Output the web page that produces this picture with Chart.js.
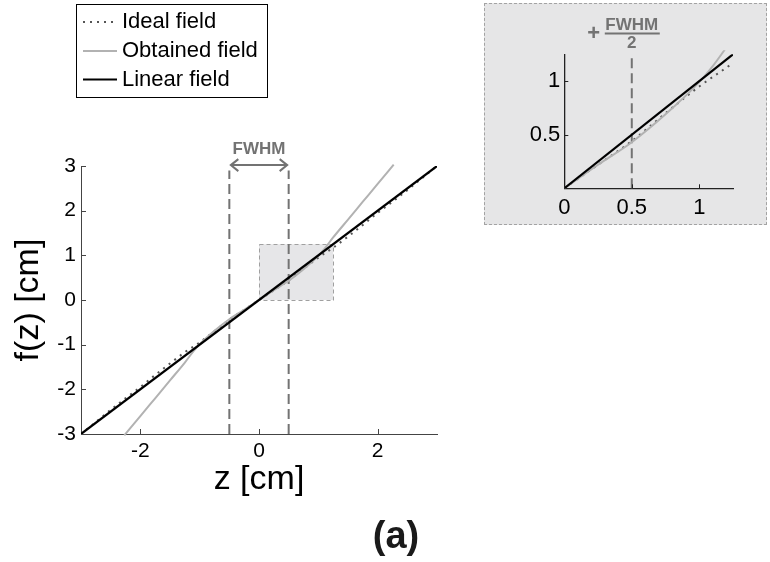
<!DOCTYPE html>
<html>
<head>
<meta charset="utf-8">
<title>f(z) field profiles</title>
<script src="https://cdn.jsdelivr.net/npm/chart.js@4/dist/chart.umd.min.js"></script>
<style>
  html, body { margin: 0; padding: 0; background: #fff; }
  #wrap { position: relative; width: 770px; height: 562px; overflow: hidden; }
  #main { position: absolute; left: 0; top: 0; }
  #insetBox { position: absolute; left: 484px; top: 3px; width: 281px; height: 220px;
              border: 1px dashed #a3a3a3; background: #e6e6e7; }
  #inset { position: absolute; left: 0; top: 0; }
</style>
</head>
<body>
<div id="wrap">
  <canvas id="main" width="770" height="562"></canvas>
  <div id="insetBox"><canvas id="inset" width="281" height="220"></canvas></div>
</div>
<script>
// ---- field profiles, z in cm, f(z) in cm ----
const zIdeal    = [-3, -2.75, -2.5, -2.25, -2, -1.75, -1.5, -1.25, -1, -0.75, -0.5, -0.25, 0,
                   0.25, 0.5, 0.75, 1, 1.25, 1.5, 1.75, 2, 2.25, 2.5, 2.75, 3];
const fIdeal    = [-3, -2.73, -2.46, -2.2, -1.95, -1.68, -1.42, -1.17, -0.95, -0.7, -0.44, -0.22, 0,
                   0.22, 0.44, 0.7, 0.95, 1.17, 1.42, 1.68, 1.95, 2.2, 2.46, 2.73, 3];
const zObtained = [-2.27, -2, -1.75, -1.5, -1.25, -1.1, -1, -0.75, -0.5, -0.25, 0,
                   0.25, 0.5, 0.75, 1, 1.1, 1.25, 1.5, 1.75, 2, 2.27];
const fObtained = [-3.03, -2.6, -2.2, -1.8, -1.4, -1.14, -0.99, -0.69, -0.43, -0.22, 0,
                   0.22, 0.43, 0.69, 0.99, 1.14, 1.4, 1.8, 2.2, 2.6, 3.03];
const zLinear   = [-3, 3];
const fLinear   = [-3, 3];

// FWHM markers and zoomed window
const fwhmEdges   = [-0.5, 0.5];
const fwhmSpan    = [-3, 2.9];     // vertical extent of the dashed FWHM lines
const fwhmArrowF  = 3.02;          // level of the double arrow
const zoomZ       = [0, 1.25];
const zoomF       = [0, 1.25];

// axis ticks and their labels
const xTicksMain   = [-2, 0, 2];
const xLabelsMain  = ['-2', '0', '2'];
const yTicksMain   = [-3, -2, -1, 0, 1, 2, 3];
const yLabelsMain  = ['-3', '-2', '-1', '0', '1', '2', '3'];
const xTicksInset  = [0, 0.5, 1];
const xLabelsInset = ['0', '0.5', '1'];
const yTicksInset  = [0.5, 1];
const yLabelsInset = ['0.5', '1'];

const legendOrder = ['Ideal field', 'Obtained field', 'Linear field'];

const FONT = "'Liberation Sans', Arial, Helvetica, sans-serif";
const GREY_MARK = '#737373';

const pts = (xs, ys) => xs.map((x, i) => ({ x: x, y: ys[i] }));

function fieldDatasets(inset) {
  return [
    { label: 'Linear field', data: pts(zLinear, fLinear), borderColor: '#000000',
      borderWidth: 2.2, pointRadius: 0, tension: 0 },
    { label: 'Obtained field', data: pts(zObtained, fObtained), borderColor: '#b2b2b2',
      borderWidth: 2, pointRadius: 0, cubicInterpolationMode: 'monotone',
      clip: inset ? { left: 0, top: 4, right: 0, bottom: 0 } : 2 },
    { label: 'Ideal field', data: pts(zIdeal, fIdeal), borderColor: '#555555',
      borderWidth: 2, borderDash: [2, 5], borderCapStyle: 'butt', pointRadius: 0,
      cubicInterpolationMode: 'monotone' }
  ];
}

function setTicks(values) {
  return function (scale) { scale.ticks = values.map(v => ({ value: v })); };
}
function labelsFrom(values, labels) {
  return function (value) {
    const i = values.indexOf(value);
    return i >= 0 ? labels[i] : '';
  };
}

// short inward tick marks on both axes
function drawInwardTicks(chart, len, color) {
  const ctx = chart.ctx, a = chart.chartArea;
  const xs = chart.scales.x, ys = chart.scales.y;
  ctx.save();
  ctx.strokeStyle = color;
  ctx.lineWidth = 1;
  ctx.beginPath();
  xs.ticks.forEach(t => {
    const px = Math.round(xs.getPixelForValue(t.value)) + 0.5;
    ctx.moveTo(px, a.bottom); ctx.lineTo(px, a.bottom - len);
  });
  ys.ticks.forEach(t => {
    const py = Math.round(ys.getPixelForValue(t.value)) + 0.5;
    ctx.moveTo(a.left, py); ctx.lineTo(a.left + len, py);
  });
  ctx.stroke();
  ctx.restore();
}

// ---------------- main panel ----------------
const mainDecor = {
  id: 'mainDecor',
  beforeDatasetsDraw(chart) {
    const ctx = chart.ctx, xs = chart.scales.x, ys = chart.scales.y;
    const x0 = xs.getPixelForValue(zoomZ[0]), x1 = xs.getPixelForValue(zoomZ[1]);
    const y0 = ys.getPixelForValue(zoomF[0]), y1 = ys.getPixelForValue(zoomF[1]);
    ctx.save();
    ctx.fillStyle = '#e6e6e8';
    ctx.fillRect(x0, y1, x1 - x0, y0 - y1);
    ctx.strokeStyle = '#a0a0a0';
    ctx.lineWidth = 1;
    ctx.setLineDash([4, 3]);
    ctx.strokeRect(Math.round(x0) + 0.5, Math.round(y1) + 0.5, Math.round(x1 - x0), Math.round(y0 - y1));
    ctx.restore();
  },
  afterDatasetsDraw(chart) {
    const ctx = chart.ctx, xs = chart.scales.x, ys = chart.scales.y;
    const xl = xs.getPixelForValue(fwhmEdges[0]), xr = xs.getPixelForValue(fwhmEdges[1]);
    const ya = ys.getPixelForValue(fwhmArrowF);
    ctx.save();
    ctx.strokeStyle = GREY_MARK;
    ctx.lineWidth = 2;
    ctx.beginPath();
    ctx.moveTo(xl + 1, ya); ctx.lineTo(xr - 1, ya);
    ctx.moveTo(xl + 9, ya - 6); ctx.lineTo(xl + 1.5, ya); ctx.lineTo(xl + 9, ya + 6);
    ctx.moveTo(xr - 9, ya - 6); ctx.lineTo(xr - 1.5, ya); ctx.lineTo(xr - 9, ya + 6);
    ctx.stroke();
    ctx.fillStyle = GREY_MARK;
    ctx.font = 'bold 17px ' + FONT;
    ctx.textAlign = 'center';
    ctx.textBaseline = 'middle';
    ctx.fillText('FWHM', (xl + xr) / 2, ya - 16);
    ctx.restore();
  },
  afterDraw(chart) {
    const ctx = chart.ctx;
    drawInwardTicks(chart, 5, '#444');

    // legend
    ctx.save();
    ctx.strokeStyle = '#000';
    ctx.lineWidth = 1;
    ctx.strokeRect(76.5, 4.5, 191, 93);
    const rowY = [22, 51, 79.5];
    legendOrder.forEach((name, i) => {
      const ds = chart.data.datasets.find(d => d.label === name);
      ctx.save();
      ctx.strokeStyle = ds.borderColor;
      ctx.lineWidth = ds.borderWidth;
      ctx.setLineDash(ds.borderDash || []);
      ctx.beginPath();
      ctx.moveTo(83, rowY[i]); ctx.lineTo(117, rowY[i]);
      ctx.stroke();
      ctx.restore();
      ctx.fillStyle = '#000';
      ctx.font = '22px ' + FONT;
      ctx.textAlign = 'left';
      ctx.textBaseline = 'middle';
      ctx.fillText(name, 122, rowY[i]);
    });

    // panel tag
    ctx.fillStyle = '#1a1a1a';
    ctx.font = 'bold 38px ' + FONT;
    ctx.textAlign = 'center';
    ctx.textBaseline = 'middle';
    ctx.fillText('(a)', 396, 538);
    ctx.restore();
  }
};

const mainData = fieldDatasets(false);
fwhmEdges.forEach(z => mainData.push({
  label: 'FWHM edge', data: [{ x: z, y: fwhmSpan[0] }, { x: z, y: fwhmSpan[1] }],
  borderColor: GREY_MARK, borderWidth: 2, borderDash: [10, 5], pointRadius: 0, clip: false
}));

new Chart(document.getElementById('main'), {
  type: 'line',
  data: { datasets: mainData },
  options: {
    responsive: false,
    animation: false,
    events: [],
    layout: { padding: { left: 12, right: 333, top: 166, bottom: 65 } },
    plugins: { legend: { display: false }, tooltip: { enabled: false } },
    scales: {
      x: {
        type: 'linear', min: -3, max: 3,
        afterBuildTicks: setTicks(xTicksMain),
        afterFit: s => { s.height = 63; },
        grid: { display: false, drawTicks: false },
        border: { display: true, color: '#444', width: 1 },
        ticks: { padding: 5, autoSkip: false, maxRotation: 0, color: '#000',
                 font: { family: FONT, size: 21 }, callback: labelsFrom(xTicksMain, xLabelsMain) },
        title: { display: true, text: 'z [cm]', color: '#000', padding: 0,
                 font: { family: FONT, size: 34, lineHeight: 1 } }
      },
      y: {
        type: 'linear', min: -3, max: 3,
        afterBuildTicks: setTicks(yTicksMain),
        afterFit: s => { s.width = 69; },
        grid: { display: false, drawTicks: false },
        border: { display: true, color: '#444', width: 1 },
        ticks: { padding: 5, autoSkip: false, color: '#000',
                 font: { family: FONT, size: 21 }, callback: labelsFrom(yTicksMain, yLabelsMain) },
        title: { display: true, text: 'f(z) [cm]', color: '#000', padding: 0,
                 font: { family: FONT, size: 34, lineHeight: 1 } }
      }
    }
  },
  plugins: [mainDecor]
});

// ---------------- zoomed inset ----------------
const insetDecor = {
  id: 'insetDecor',
  afterDraw(chart) {
    const ctx = chart.ctx, xs = chart.scales.x;
    drawInwardTicks(chart, 4, '#222');
    const cx = xs.getPixelForValue(fwhmEdges[1]);
    ctx.save();
    ctx.fillStyle = GREY_MARK;
    ctx.strokeStyle = GREY_MARK;
    ctx.textAlign = 'center';
    ctx.textBaseline = 'middle';
    ctx.font = 'bold 17px ' + FONT;
    ctx.fillText('FWHM', cx, 21);
    ctx.fillText('2', cx, 39.5);
    ctx.lineWidth = 1.8;
    ctx.beginPath();
    ctx.moveTo(cx - 27, 29.5); ctx.lineTo(cx + 28, 29.5);
    ctx.stroke();
    ctx.font = 'bold 22px ' + FONT;
    ctx.fillText('+', cx - 38, 30);
    ctx.restore();
  }
};

const insetData = fieldDatasets(true);
insetData.push({
  label: 'FWHM edge', data: [{ x: fwhmEdges[1], y: zoomF[0] }, { x: fwhmEdges[1], y: zoomF[1] }],
  borderColor: GREY_MARK, borderWidth: 2, borderDash: [10, 5], pointRadius: 0, clip: false
});

new Chart(document.getElementById('inset'), {
  type: 'line',
  data: { datasets: insetData },
  options: {
    responsive: false,
    animation: false,
    events: [],
    layout: { padding: { left: 9.3, right: 33, top: 50.3, bottom: 5.7 } },
    plugins: { legend: { display: false }, tooltip: { enabled: false } },
    scales: {
      x: {
        type: 'linear', min: zoomZ[0], max: zoomZ[1],
        afterBuildTicks: setTicks(xTicksInset),
        afterFit: s => { s.height = 30; },
        grid: { display: false, drawTicks: false },
        border: { display: true, color: '#222', width: 1.3 },
        ticks: { padding: 6, autoSkip: false, maxRotation: 0, color: '#000',
                 font: { family: FONT, size: 22 }, callback: labelsFrom(xTicksInset, xLabelsInset) }
      },
      y: {
        type: 'linear', min: zoomF[0], max: zoomF[1],
        afterBuildTicks: setTicks(yTicksInset),
        afterFit: s => { s.width = 70; },
        grid: { display: false, drawTicks: false },
        border: { display: true, color: '#222', width: 1.3 },
        ticks: { padding: 4, autoSkip: false, color: '#000',
                 font: { family: FONT, size: 22 }, callback: labelsFrom(yTicksInset, yLabelsInset) }
      }
    }
  },
  plugins: [insetDecor]
});
</script>
</body>
</html>
